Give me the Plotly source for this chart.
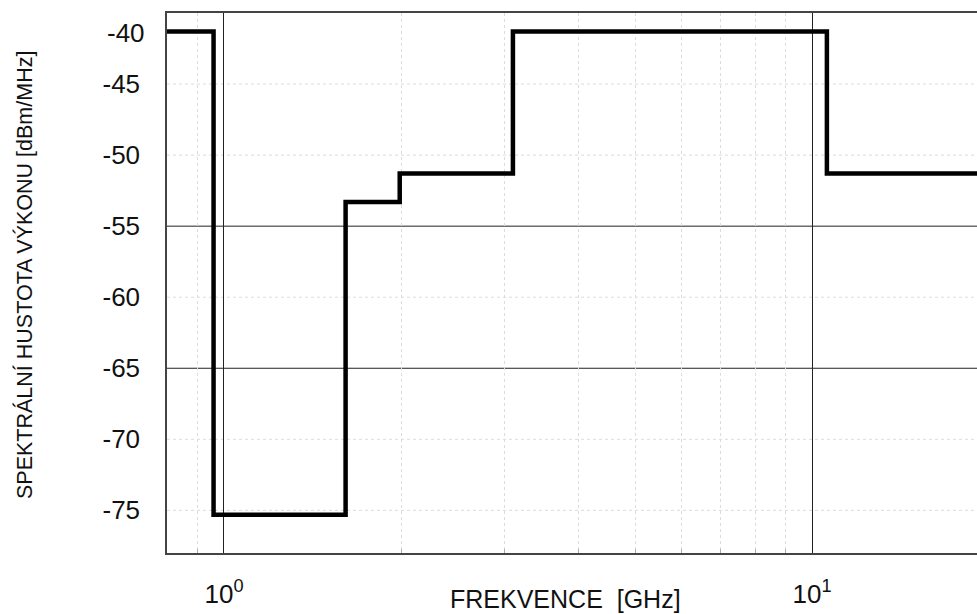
import plotly.graph_objects as go
import math

# Data: UWB spectral mask (step function)
freq_ghz = [0.8, 0.96, 1.61, 1.99, 3.1, 10.6, 20.0]
psd_dbm = [-41.3, -75.3, -53.3, -51.3, -41.3, -51.3, -51.3]

y_ticks = [-45, -50, -55, -60, -65, -70, -75]
y_solid_grid = [-55, -65]
y_dotted_grid = [-45, -50, -60, -70, -75]
x_major = [1, 10]
x_major_text = ["10<sup>0</sup>", "10<sup>1</sup>"]
x_minor = [0.9, 2, 3, 4, 5, 6, 7, 8, 9, 20]

FONT = "Liberation Sans, Arial, sans-serif"

fig = go.Figure()
fig.add_trace(go.Scatter(
    x=freq_ghz, y=psd_dbm, mode="lines",
    line=dict(color="black", width=4.5, shape="hv"),
    showlegend=False, hoverinfo="skip",
))

shapes = []
for v in y_solid_grid:
    shapes.append(dict(type="line", xref="paper", yref="y", x0=0, x1=1, y0=v, y1=v,
                       line=dict(color="#222", width=1), layer="below"))
for v in y_dotted_grid:
    shapes.append(dict(type="line", xref="paper", yref="y", x0=0, x1=1, y0=v, y1=v,
                       line=dict(color="#dcdcdc", width=1, dash="dot"), layer="below"))

fig.update_layout(
    width=977, height=614,
    margin=dict(l=167, r=0, t=13, b=61),
    paper_bgcolor="white", plot_bgcolor="white",
    font=dict(family=FONT, color="#111"),
    shapes=shapes,
    xaxis=dict(
        type="log",
        range=[math.log10(0.8), math.log10(19.08)],
        tickvals=x_major, ticktext=x_major_text,
        tickfont=dict(size=26, family=FONT),
        ticks="", ticklabelstandoff=17,
        showgrid=True, gridcolor="#222", gridwidth=1,
        showline=True, mirror=True, linecolor="#444", linewidth=1.5,
        zeroline=False, automargin=False,
        minor=dict(tickvals=x_minor, ticks="inside", ticklen=4, tickcolor="#aaa",
                   showgrid=True, gridcolor="#dcdcdc", griddash="dot", gridwidth=1),
    ),
    yaxis=dict(
        range=[-78, -40],
        tickvals=y_ticks, ticktext=[str(v) for v in y_ticks],
        tickfont=dict(size=26, family=FONT),
        ticks="", ticklabelstandoff=20,
        showgrid=False,
        showline=True, mirror=False, linecolor="#444", linewidth=1.5,
        zeroline=False, automargin=False,
    ),
    annotations=[
        dict(text="-40", xref="paper", yref="y", x=0, y=-41.4, xanchor="right",
             yanchor="middle", xshift=-20, showarrow=False,
             font=dict(size=26, family=FONT, color="#111")),
        dict(text="FREKVENCE  [GHz]", xref="paper", yref="paper", x=(565 - 167) / 810,
             y=0, yshift=-30, xanchor="center", yanchor="top", showarrow=False,
             font=dict(size=25, family=FONT, color="#111")),
        dict(text="SPEKTRÁLNÍ HUSTOTA VÝKONU [dBm/MHz]", xref="paper", yref="paper",
             x=0, xshift=-143, y=(553 - 275) / 540, xanchor="center", yanchor="middle",
             textangle=-90, showarrow=False,
             font=dict(size=21.5, family=FONT, color="#111")),
    ],
)

fig.write_html(
    "out.html",
    config={"displayModeBar": False},
    post_script="document.body.style.margin='0';document.body.style.overflow='hidden';"
                "window.dispatchEvent(new Event('resize'));",
)
